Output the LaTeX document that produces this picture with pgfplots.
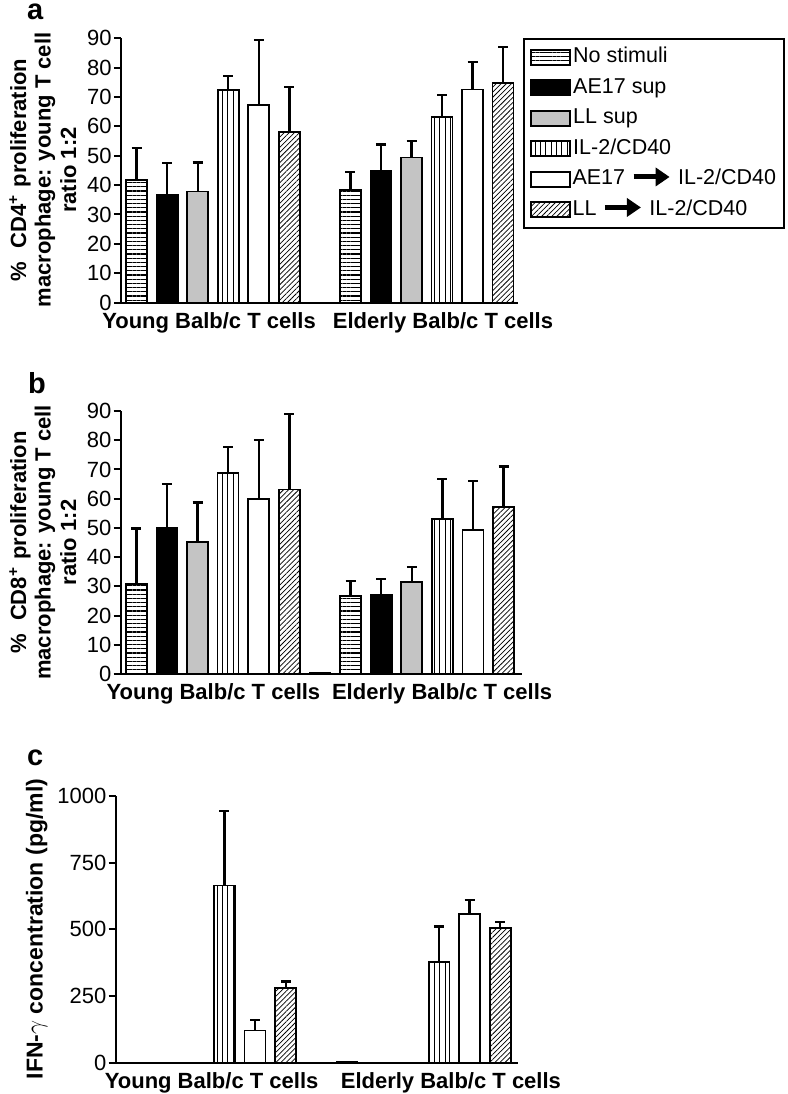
\documentclass[border=0pt]{standalone}
\usepackage{fontspec}
\setmainfont{Liberation Sans}
\usepackage{pgfplots}
\pgfplotsset{compat=1.18}
\usetikzlibrary{patterns.meta,arrows.meta}
\definecolor{llgray}{RGB}{196,196,196}
\newcommand\fs[2]{\fontsize{#1}{#2}\selectfont}
\newcommand\arr{\tikz[baseline=-7.7pt]\draw[line width=5pt,-{Triangle[length=14pt,width=18pt]}] (0pt,0pt)--(36pt,0pt);}
\pgfplotsset{
  ybar legend/.style={legend image code/.code={\draw[##1,line width=1.7pt] (0pt,-7.5pt) rectangle (39pt,7.5pt);}},
  panel/.style={scale only axis, anchor=south west, ybar, bar width=21pt, bar shift=0pt,
    axis x line=bottom, axis y line=left, axis line style={-, line width=2pt},
    enlarge x limits=false, tick align=outside, major tick length=7.5pt,
    ytick style={line width=2pt, black}, xtick style={draw=none},
    yticklabel style={font=\fs{22}{22}, inner sep=2pt},
    xticklabel style={font=\bfseries\fs{22}{22}, inner sep=0pt, yshift=-2pt},
    /pgf/number format/assume math mode=true, /pgf/number format/1000 sep={},
    clip=false},
  eb/.style={every error bar/.append style={line width=2.4pt, black, solid},
    error bars/.cd, y dir=plus, y explicit,
    error bar style={line width=2.4pt, black, solid},
    error mark options={rotate=90, line width=2.2pt, mark size=5pt, black, solid}},
  s1/.style={draw=black, line width=1.7pt, fill=white, postaction={pattern={Lines[angle=0,distance=4.2pt,line width=1.1pt]}}},
  s2/.style={draw=black, line width=1.7pt, fill=black},
  s3/.style={draw=black, line width=1.7pt, fill=llgray},
  s4/.style={draw=black, line width=1.7pt, fill=white, postaction={pattern={Lines[angle=90,distance=5.3pt,line width=1.1pt]}}},
  s5/.style={draw=black, line width=1.7pt, fill=white},
  s6/.style={draw=black, line width=1.7pt, fill=white, postaction={pattern={Lines[angle=45,distance=3.6pt,line width=0.75pt]}}},
}
\begin{document}
\begin{tikzpicture}
\useasboundingbox (0pt,0pt) rectangle (787pt,-1094pt);
% ---------- panel a ----------
\begin{axis}[panel, at={(121.4pt,-302.5pt)}, width=397pt, height=264.2pt,
  xmin=-0.5, xmax=12.5, ymin=0, ymax=90, ytick={0,10,...,90},
  xtick={2.37,10.03}, xticklabels={Young Balb/c T cells, Elderly Balb/c T cells},
  legend cell align=left,
  legend style={at={(1.0116,1)}, anchor=north west, draw=black, line width=1.7pt,
    inner sep=6pt, row sep=6.5pt, column sep=0pt,
    nodes={font=\fs{21.5}{21.5}, inner sep=2pt, text height=15.5pt, text depth=4.5pt, anchor=west}}]
\addplot[s1, eb] coordinates {(0,41.8) +- (0,10.7) (7,38.4) +- (0,6.1)};
\addlegendentry{No stimuli}
\addplot[s2, eb] coordinates {(1,36.7) +- (0,10.7) (8,44.8) +- (0,9.0)};
\addlegendentry{AE17 sup}
\addplot[s3, eb] coordinates {(2,37.8) +- (0,9.9) (9,49.4) +- (0,5.7)};
\addlegendentry{LL sup}
\addplot[s4, eb] coordinates {(3,72.3) +- (0,4.9) (10,63.3) +- (0,7.5)};
\addlegendentry{IL-2/CD40}
\addplot[s5, eb] coordinates {(4,67.3) +- (0,22.2) (11,72.6) +- (0,9.3)};
\addlegendentry{AE17 \arr{} IL-2/CD40}
\addplot[s6, eb] coordinates {(5,58.0) +- (0,15.5) (12,74.8) +- (0,12.2)};
\addlegendentry{LL \arr{} IL-2/CD40}
\end{axis}
% ---------- panel b ----------
\begin{axis}[panel, at={(121pt,-674pt)}, width=401pt, height=263pt,
  xmin=-0.5, xmax=12.6, ymin=0, ymax=90, ytick={0,10,...,90},
  xtick={2.52,9.99}, xticklabels={Young Balb/c T cells, Elderly Balb/c T cells}]
\addplot[s1, eb] coordinates {(0,30.9) +- (0,18.9) (7,26.7) +- (0,5.0)};
\addplot[s2, eb] coordinates {(1,50.0) +- (0,15.1) (8,27.0) +- (0,5.4)};
\addplot[s3, eb] coordinates {(2,45.1) +- (0,13.6) (9,31.5) +- (0,5.2)};
\addplot[s4, eb] coordinates {(3,68.8) +- (0,8.8) (10,53.1) +- (0,13.7)};
\addplot[s5, eb] coordinates {(4,60.0) +- (0,20.1) (11,49.2) +- (0,16.8)};
\addplot[s6, eb] coordinates {(5,63.1) +- (0,25.9) (12,57.2) +- (0,13.8)};
\addplot[s5] coordinates {(6,0.4)};
\end{axis}
% ---------- panel c ----------
\begin{axis}[panel, at={(116pt,-1062.5pt)}, width=402pt, height=266.5pt,
  xmin=-0.54, xmax=12.58, ymin=0, ymax=1000, ytick={0,250,...,1000},
  xtick={2.58,10.39}, xticklabels={Young Balb/c T cells, Elderly Balb/c T cells}]
\addplot[s1] coordinates {(7,4)};
\addplot[s4, eb] coordinates {(3,664) +- (0,280) (10,376) +- (0,134)};
\addplot[s5, eb] coordinates {(4,120) +- (0,40) (11,558) +- (0,52)};
\addplot[s6, eb] coordinates {(5,279) +- (0,25) (12,504) +- (0,22)};
\end{axis}
% ---------- labels ----------
\node[anchor=base west, font=\bfseries\fs{29}{29}, inner sep=0pt] at (27pt,-20pt) {a};
\node[anchor=base west, font=\bfseries\fs{29}{29}, inner sep=0pt] at (28pt,-393pt) {b};
\node[anchor=base west, font=\bfseries\fs{29}{29}, inner sep=0pt] at (27pt,-765pt) {c};
\begin{scope}[every node/.style={rotate=90, anchor=base, font=\bfseries\fs{22}{22}, inner sep=0pt}]
\node at (26pt,-170pt) {\%\hspace{0.6em}CD4\textsuperscript{+}\hspace{0.35em}proliferation};
\node at (50.5pt,-170pt) {macrophage: young T cell};
\node at (76pt,-170pt) {ratio 1:2};
\node at (26pt,-542.5pt) {\%\hspace{0.6em}CD8\textsuperscript{+}\hspace{0.35em}proliferation};
\node at (50.5pt,-542.5pt) {macrophage: young T cell};
\node at (76pt,-542.5pt) {ratio 1:2};
\node[font=\bfseries\fs{23}{23}] at (42.5pt,-929pt) {IFN-$\gamma$ concentration (pg/ml)};
\end{scope}
\end{tikzpicture}
\end{document}
